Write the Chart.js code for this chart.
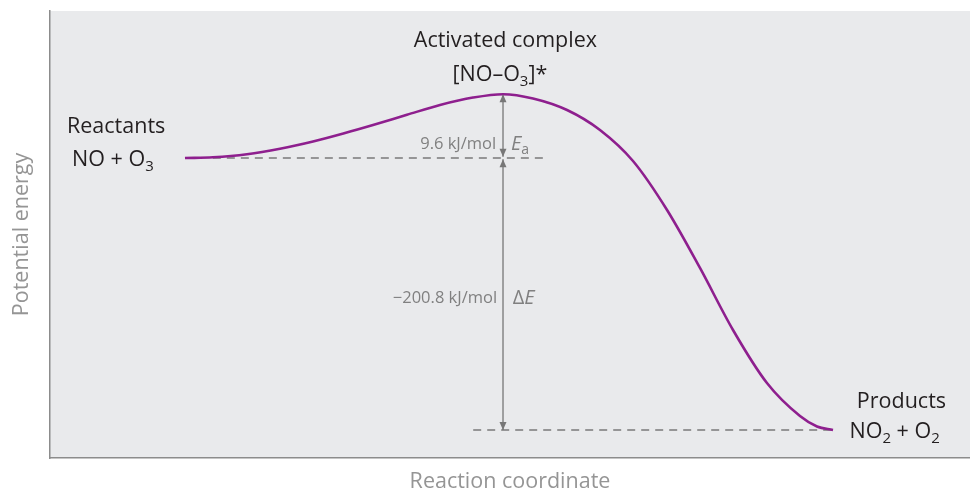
<!DOCTYPE html>
<html>
<head>
<meta charset="utf-8">
<script src="https://cdn.jsdelivr.net/npm/chart.js"></script>
<style>
  html, body { margin: 0; padding: 0; background: #fff; }
</style>
</head>
<body>
<canvas id="energyChart" width="970" height="495"></canvas>
<script>
// reaction coordinate (0-100) and potential energy (arbitrary units, 0-100)
const curveX = [14.67, 17.72, 21.41, 25.0, 28.59, 32.07, 35.11, 38.80, 42.39, 45.98, 49.24,
  52.50, 56.20, 59.78, 63.37, 67.07, 70.65, 74.24, 77.93, 81.52, 83.37, 85.11];
const curveY = [67.11, 67.27, 67.94, 69.17, 70.81, 72.71, 74.50, 76.78, 78.97, 80.63, 81.39,
  80.43, 77.85, 73.38, 66.44, 55.48, 42.51, 28.64, 16.78, 9.40, 7.05, 6.26];

const reactantEnergy = 67.11;
const complexEnergy = 81.39;
const productEnergy = 6.26;
const complexX = 49.24;

const reactantDashX = [17.7, 53.6];
const productDashX = [46.0, 85.1];

const eaText = '9.6 kJ/mol';
const deltaText = '\u2212200.8 kJ/mol';

const FONT = '"Open Sans", "Liberation Sans", sans-serif';
const purple = '#8e1f8e';
const dashGray = '#7a7a7a';

// label anchors in data units
const labels = [
  { x: 49.5, y: 93.3, align: 'center', size: 21.5, color: '#231f20', parts: [{ t: 'Activated complex' }] },
  { x: 48.9, y: 85.7, align: 'center', size: 21.5, color: '#231f20', parts: [{ t: '[NO\u2013O' }, { t: '3', sub: true }, { t: ']*' }] },
  { x: 1.85, y: 74.1, align: 'left', size: 21.5, color: '#231f20', parts: [{ t: 'Reactants' }] },
  { x: 2.4, y: 66.7, align: 'left', size: 21.5, color: '#231f20', parts: [{ t: 'NO + O' }, { t: '3', sub: true }] },
  { x: 87.7, y: 12.5, align: 'left', size: 21.5, color: '#231f20', parts: [{ t: 'Products' }] },
  { x: 86.9, y: 5.8, align: 'left', size: 21.5, color: '#231f20', parts: [{ t: 'NO' }, { t: '2', sub: true }, { t: ' + O' }, { t: '2', sub: true }] },
  { x: 48.5, y: 70.2, align: 'right', size: 16.5, color: '#808080', parts: [{ t: eaText }] },
  { x: 50.1, y: 70.2, align: 'left', size: 20, color: '#808080', parts: [{ t: 'E', italic: true }, { t: 'a', sub: true }] },
  { x: 48.6, y: 35.8, align: 'right', size: 16.5, color: '#808080', parts: [{ t: deltaText }] },
  { x: 50.3, y: 35.8, align: 'left', size: 20, color: '#808080', parts: [{ t: '\u0394' }, { t: 'E', italic: true }] }
];

function partFont(p, size) {
  const s = p.sub ? Math.round(size * 0.72) : size;
  return (p.italic ? 'italic ' : '') + s + 'px ' + FONT;
}

function drawRich(ctx, item, px, py) {
  let total = 0;
  item.parts.forEach(p => {
    ctx.font = partFont(p, item.size);
    total += ctx.measureText(p.t).width;
  });
  let x = px;
  if (item.align === 'center') x = px - total / 2;
  if (item.align === 'right') x = px - total;
  ctx.fillStyle = item.color;
  ctx.textBaseline = 'middle';
  ctx.textAlign = 'left';
  item.parts.forEach(p => {
    ctx.font = partFont(p, item.size);
    ctx.fillText(p.t, x, py + (p.sub ? item.size * 0.3 : 0));
    x += ctx.measureText(p.t).width;
  });
}

const plotBackground = {
  id: 'plotBackground',
  beforeDraw(chart) {
    const { ctx, chartArea } = chart;
    ctx.save();
    ctx.fillStyle = '#e9eaec';
    ctx.fillRect(chartArea.left, chartArea.top, chartArea.right - chartArea.left, chartArea.bottom - chartArea.top);
    ctx.restore();
  }
};

const arrowHeads = {
  id: 'arrowHeads',
  afterDatasetsDraw(chart) {
    const ctx = chart.ctx;
    chart.data.datasets.forEach((ds, i) => {
      if (!ds.arrow) return;
      const pts = chart.getDatasetMeta(i).data;
      const a = pts[0], b = pts[pts.length - 1];
      ctx.save();
      ctx.fillStyle = ds.borderColor;
      [[a, b], [b, a]].forEach(([tip, from]) => {
        const dir = Math.sign(tip.y - from.y);
        ctx.beginPath();
        ctx.moveTo(tip.x, tip.y);
        ctx.lineTo(tip.x - 3.5, tip.y - dir * 8);
        ctx.lineTo(tip.x + 3.5, tip.y - dir * 8);
        ctx.closePath();
        ctx.fill();
      });
      ctx.restore();
    });
  }
};

const textLabels = {
  id: 'textLabels',
  afterDraw(chart) {
    const { ctx, scales } = chart;
    ctx.save();
    labels.forEach(l => drawRich(ctx, l, scales.x.getPixelForValue(l.x), scales.y.getPixelForValue(l.y)));
    ctx.restore();
  }
};

const curvePoints = curveX.map((x, i) => ({ x: x, y: curveY[i] }));

function lineSet(points, extra) {
  return Object.assign({
    data: points,
    showLine: true,
    pointRadius: 0,
    pointHoverRadius: 0,
    fill: false
  }, extra);
}

new Chart(document.getElementById('energyChart'), {
  type: 'scatter',
  data: {
    datasets: [
      lineSet([{ x: reactantDashX[0], y: reactantEnergy }, { x: reactantDashX[1], y: reactantEnergy }],
        { borderColor: dashGray, borderWidth: 1.5, borderDash: [8, 6], order: 3 }),
      lineSet([{ x: productDashX[0], y: productEnergy }, { x: productDashX[1], y: productEnergy }],
        { borderColor: dashGray, borderWidth: 1.5, borderDash: [8, 6], order: 3 }),
      lineSet([{ x: complexX, y: complexEnergy }, { x: complexX, y: reactantEnergy + 0.3 }],
        { borderColor: '#777777', borderWidth: 1.3, arrow: true, order: 2 }),
      lineSet([{ x: complexX, y: reactantEnergy - 0.3 }, { x: complexX, y: productEnergy }],
        { borderColor: '#777777', borderWidth: 1.3, arrow: true, order: 2 }),
      lineSet(curvePoints,
        { borderColor: purple, borderWidth: 2.6, cubicInterpolationMode: 'monotone', order: 1 })
    ]
  },
  options: {
    responsive: false,
    animation: false,
    devicePixelRatio: 1,
    layout: { padding: { top: 11, right: 0, bottom: 0, left: 0 } },
    plugins: { legend: { display: false }, tooltip: { enabled: false } },
    events: [],
    scales: {
      x: {
        type: 'linear', min: 0, max: 100,
        grid: { display: false },
        border: { display: true, color: '#8c8c8c', width: 1.5 },
        ticks: { display: false },
        title: { display: true, text: 'Reaction coordinate', color: '#959595', font: { family: FONT, size: 21.5 }, padding: { top: 0, bottom: 0 } },
        afterFit: s => { s.height = 37; }
      },
      y: {
        type: 'linear', min: 0, max: 100,
        grid: { display: false },
        border: { display: true, color: '#8c8c8c', width: 1.5 },
        ticks: { display: false },
        title: { display: true, text: 'Potential energy', color: '#959595', font: { family: FONT, size: 21.5 }, padding: { top: 9, bottom: 0 } },
        afterFit: s => { s.width = 50; }
      }
    }
  },
  plugins: [plotBackground, arrowHeads, textLabels]
});
</script>
</body>
</html>
